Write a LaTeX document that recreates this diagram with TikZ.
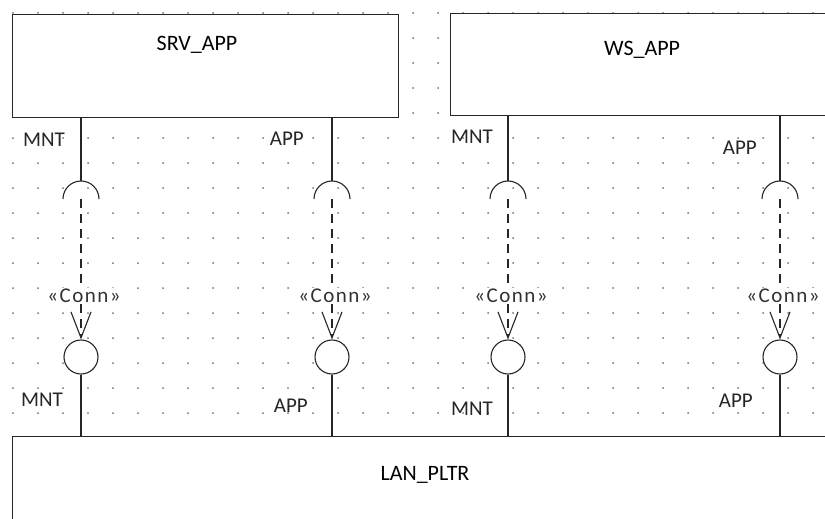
\documentclass[tikz,border=0pt]{standalone}
\usepackage{fontspec}
\setmainfont{Carlito}
\usetikzlibrary{arrows.meta,positioning,calc}

\begin{document}
\begin{tikzpicture}[x=1pt,y=-1pt,
  comp/.style={draw=black!85,line width=1pt,fill=white,anchor=north west,inner sep=0pt},
  boxtxt/.style={font=\fontsize{22}{26}\selectfont,inner sep=0pt},
  lbl/.style={font=\fontsize{21}{25}\selectfont,anchor=east,inner sep=0pt,text=black!85},
  link/.style={line width=1.1pt,draw=black!85},
  dep/.style={link,dash pattern=on 9pt off 6pt,-{Straight Barb[length=26pt,width=20pt,line width=1.1pt]}},
  prov/.style={circle,draw=black!85,line width=1.1pt,minimum size=34pt,inner sep=0pt,fill=white},
  stereo/.style={font=\fontsize{21}{24}\selectfont\addfontfeatures{LetterSpace=7},fill=white,inner sep=1pt,text=black!80}]
\clip (0,0) rectangle (825,519);
\fill[white] (0,0) rectangle (825,519);
% grid
\foreach \i in {0,...,33} \foreach \j in {0,...,20} \fill[black!55] (13+25*\i,13+25*\j) circle (1pt);
% components
\node[comp,minimum width=386pt,minimum height=103pt] (srv) at (12,14) {};
\node[boxtxt] (srvname) at (197,45) {SRV\_APP};
\node[comp,minimum width=400pt,minimum height=102pt] (ws) at (450,13) {};
\node[boxtxt] (wsname) at (642,50) {WS\_APP};
\node[comp,minimum width=840pt,minimum height=110pt] (lan) at (12,436) {};
\node[boxtxt] (lanname) at (425,475) {LAN\_PLTR};
% ports and connectors
\foreach \n/\x/\b in {1/81/srv,2/332/srv,3/508/ws,4/780/ws}{
  \coordinate (sk\n) at (\x,199);
  \node[prov] (pv\n) at (\x,357) {};
  \draw[link] (\b.south -| sk\n) -- ($(sk\n)+(0,-18)$);
  \draw[link] ($(sk\n)+(-18,0)$) arc[start angle=180,end angle=0,radius=18pt];
  \draw[dep] (sk\n) -- (pv\n);
  \node[stereo] (cn\n) at (\x+3,296) {«Conn»};
  \draw[link] (pv\n) -- (lan.north -| pv\n);
}
\node[lbl] (mnt1) at (65,140) {MNT};
\node[lbl] (app1) at (304,139) {APP};
\node[lbl] (mnt2) at (493,137) {MNT};
\node[lbl] (app2) at (757,148) {APP};
\node[lbl] (mnt3) at (63,400) {MNT};
\node[lbl] (app3) at (308,406) {APP};
\node[lbl] (mnt4) at (493,409) {MNT};
\node[lbl] (app4) at (753,401) {APP};
\end{tikzpicture}
\end{document}
